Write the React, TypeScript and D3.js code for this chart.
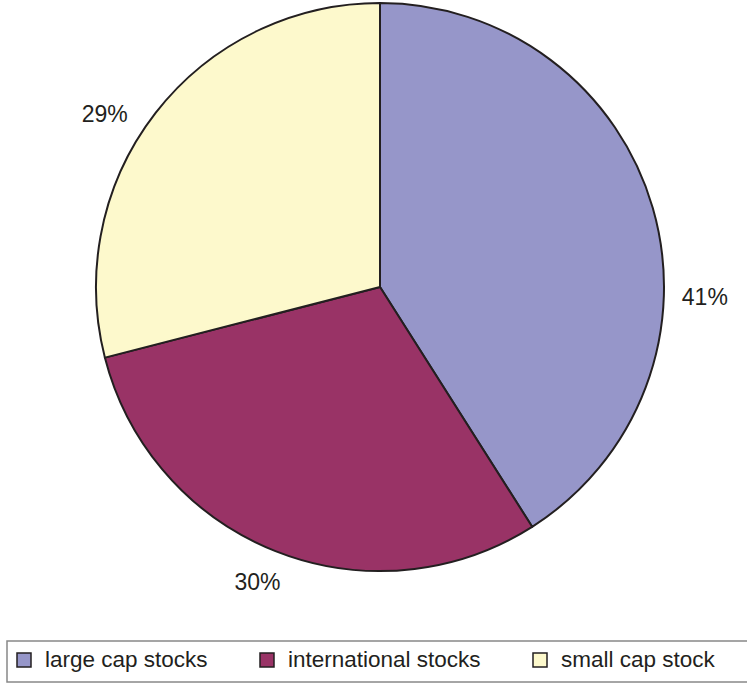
import * as d3 from "d3";
import React from "react";

// chart data
const categories = ["large cap stocks", "international stocks", "small cap stock"];
const shares = [41, 30, 29];
const sliceColors = ["#9696c9", "#993366", "#fdf9cc"];

const W = 747;
const H = 683;

export default function App() {
  const cx = 380;
  const cy = 287;
  const r = 284;

  const data = categories.map((name, i) => ({ name, value: shares[i], color: sliceColors[i] }));

  const pie = d3.pie<any>().sort(null).value((d) => d.value);
  const arcs = pie(data);
  const arcGen = d3.arc<any>().innerRadius(0).outerRadius(r);

  // labels sit outside the rim; first one pushed down a bit like the original
  const labelRadius = 325;
  const labelNudge = [18, 1, -5.7]; // degrees
  const labelPos = arcs.map((a, i) => {
    const mid = (a.startAngle + a.endAngle) / 2 + (labelNudge[i] * Math.PI) / 180;
    const lr = i === 1 ? labelRadius - 6 : labelRadius;
    return [cx + lr * Math.sin(mid), cy - lr * Math.cos(mid)];
  });

  // legend layout
  const legendX = [17, 260, 533];

  return (
    <svg
      width={W}
      height={H}
      style={{ position: "absolute", left: 0, top: 0, fontFamily: "'Liberation Sans', Arial, sans-serif" }}
    >
      <rect width={W} height={H} fill="#fff" />
      <g transform={`translate(${cx},${cy})`}>
        {arcs.map((a, i) => (
          <path key={i} d={arcGen(a) as string} fill={a.data.color} stroke="#231f20" strokeWidth={2} strokeLinejoin="round" />
        ))}
      </g>
      {arcs.map((a, i) => (
        <text
          key={i}
          x={labelPos[i][0]}
          y={labelPos[i][1]}
          textAnchor="middle"
          dominantBaseline="central"
          fontSize={23}
          fill="#231f20"
        >
          {a.data.value}%
        </text>
      ))}
      <rect x={7} y={641} width={W + 5} height={41} fill="none" stroke="#888" strokeWidth={1.5} />
      {data.map((d, i) => (
        <g key={i}>
          <rect x={legendX[i]} y={653} width={14} height={14} fill={d.color} stroke="#231f20" strokeWidth={1.5} />
          <text x={legendX[i] + 28} y={667} fontSize={22.5} fill="#231f20">
            {d.name}
          </text>
        </g>
      ))}
    </svg>
  );
}
